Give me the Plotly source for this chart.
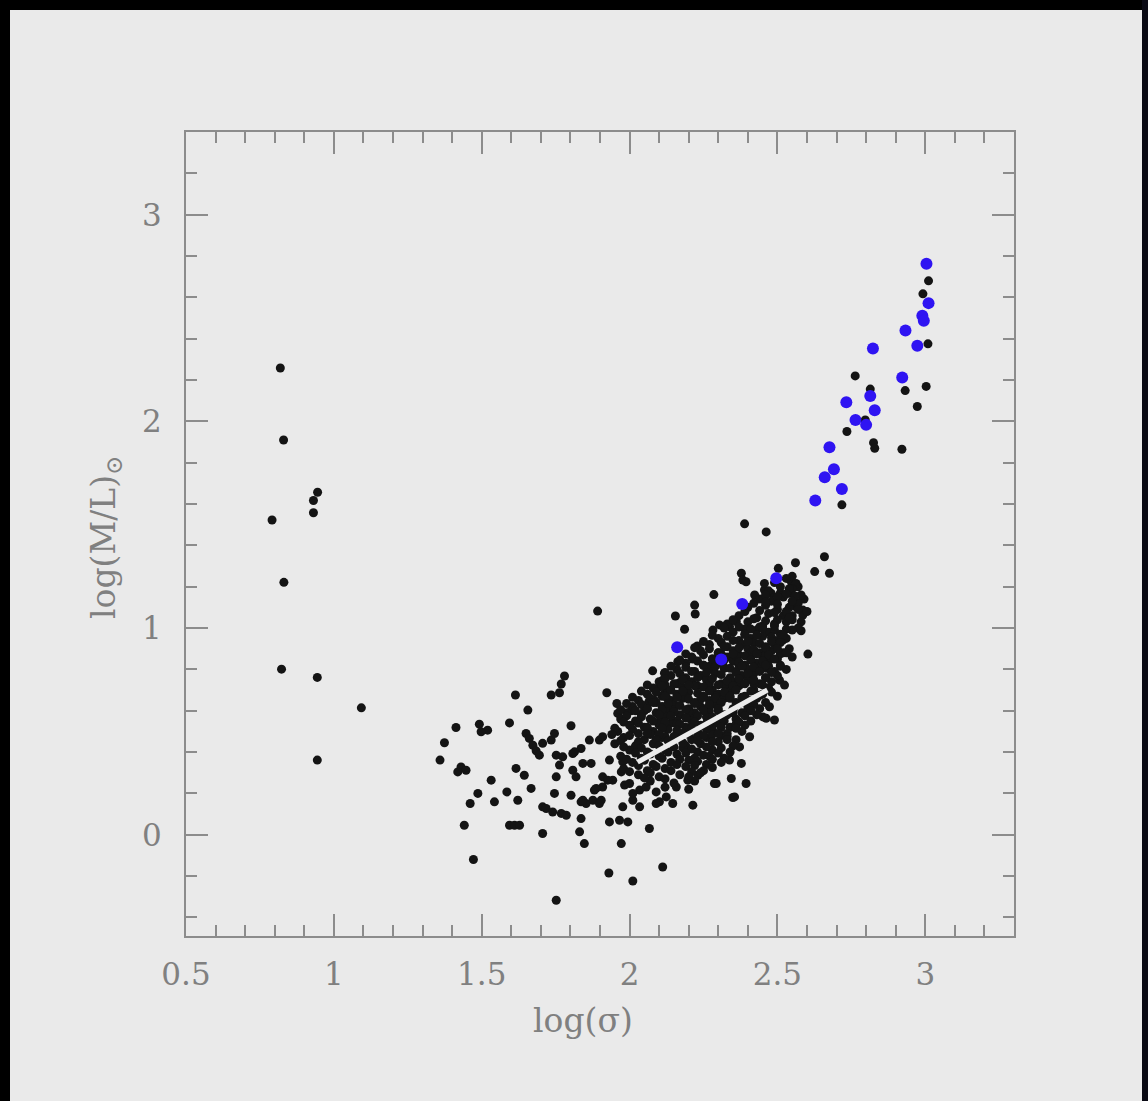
import plotly.graph_objects as go

# ---------------- data ----------------
# isolated low-sigma objects
left_x = [0.819, 0.830, 0.945, 0.931, 0.931, 0.791, 0.831, 0.823, 0.944, 1.093, 0.944]
left_y = [2.258, 1.910, 1.657, 1.617, 1.558, 1.523, 1.221, 0.801, 0.761, 0.614, 0.361]

# scattered black points around the main sequence
sparse_x = [1.892, 2.155, 2.220, 2.222, 2.285, 2.423, 2.456, 2.479, 2.378, 2.383, 2.394,
            2.456, 2.503, 2.547, 2.563, 2.561, 2.626, 2.676, 2.659, 2.563, 2.586, 2.586,
            2.186, 2.282, 2.304, 2.338, 2.361, 2.580, 2.541, 2.229, 2.214, 2.163, 2.603,
            2.078, 2.118, 2.112, 2.169, 2.101, 2.118, 2.124, 2.065, 2.084,
            1.923, 1.780, 1.769, 1.763, 1.735, 1.614, 1.656, 1.957, 1.960, 2.005, 2.050,
            1.413, 1.492, 1.520, 1.498, 1.594, 1.802, 1.374, 1.359,
            1.650, 1.661, 1.673, 1.684, 1.695, 1.706, 1.735, 1.746, 1.898, 1.909,
            1.430, 1.447, 1.419, 1.616, 1.644, 1.532, 1.487, 1.461, 1.543, 1.585, 1.622, 1.667,
            1.752, 1.774, 1.763, 1.752, 1.808, 1.836, 1.842, 1.870, 1.808, 1.819,
            1.746, 1.802, 1.706, 1.718, 1.740, 1.769, 1.786,
            1.836, 1.853, 1.876, 1.898, 1.836, 1.881, 1.909, 1.943, 1.972, 2.000, 2.011, 2.034,
            1.932, 1.966, 1.994, 2.067, 1.441, 1.594, 1.611, 1.628, 1.706, 1.831, 1.847, 1.972,
            1.472, 1.930, 2.011, 2.112, 1.752,
            2.146, 2.214, 2.101, 2.349, 2.287, 2.394, 2.344, 2.378,
            2.490, 2.462, 2.507, 2.524, 1.814, 1.864, 1.932, 1.909, 1.977,
            1.887, 1.926, 1.983, 2.011, 2.056, 2.090, 2.124, 2.158, 2.197, 2.231,
            1.842, 1.904, 1.977, 2.034, 2.090, 2.293, 2.355,
            2.451, 2.473, 2.406, 2.372, 2.338, 2.462, 2.518,
            2.550, 2.570, 2.590, 2.550, 2.580]
sparse_y = [1.082, 1.058, 1.111, 1.068, 1.162, 1.160, 1.184, 1.168, 1.265, 1.232, 1.224,
            1.216, 1.289, 1.224, 1.216, 1.316, 1.273, 1.265, 1.345, 1.103, 1.087, 1.063,
            0.994, 0.990, 1.015, 1.006, 1.031, 0.987, 1.168, 0.913, 0.850, 0.837, 0.874,
            0.793, 0.781, 0.748, 0.735, 0.716, 0.684, 0.667, 0.643, 0.651,
            0.687, 0.768, 0.729, 0.687, 0.676, 0.676, 0.603, 0.635, 0.587, 0.600, 0.600,
            0.519, 0.535, 0.506, 0.498, 0.541, 0.527, 0.445, 0.361,
            0.490, 0.466, 0.433, 0.406, 0.385, 0.442, 0.458, 0.490, 0.458, 0.474,
            0.328, 0.312, 0.304, 0.321, 0.288, 0.264, 0.200, 0.151, 0.159, 0.207, 0.167, 0.224,
            0.385, 0.377, 0.337, 0.280, 0.393, 0.417, 0.345, 0.345, 0.312, 0.280,
            0.200, 0.191, 0.135, 0.127, 0.110, 0.103, 0.094,
            0.159, 0.151, 0.167, 0.151, 0.078, 0.216, 0.231, 0.264, 0.304, 0.248, 0.167, 0.216,
            0.062, 0.070, 0.062, 0.030, 0.046, 0.046, 0.046, 0.046, 0.006, 0.014, -0.043, -0.043,
            -0.120, -0.185, -0.224, -0.156, -0.317,
            0.151, 0.143, 0.159, 0.180, 0.248, 0.248, 0.272, 0.345,
            0.555, 0.563, 0.748, 0.724, 0.401, 0.458, 0.361, 0.280, 0.353,
            0.224, 0.264, 0.240, 0.200, 0.231, 0.207, 0.183, 0.231, 0.264, 0.288,
            0.167, 0.167, 0.135, 0.135, 0.151, 0.248, 0.183,
            0.570, 0.619, 0.474, 0.425, 0.361, 0.805, 0.942,
            1.250, 1.200, 1.140, 1.060, 1.030]

# dense core of the main sequence (first layer)
core_x = [2.49, 2.53, 2.56,
          2.47, 2.51, 2.55, 2.58,
          2.44, 2.48, 2.52, 2.57,
          2.40, 2.46, 2.50, 2.54, 2.60,
          2.37, 2.43, 2.47, 2.52, 2.55,
          2.33, 2.40, 2.45, 2.49, 2.53, 2.57,
          2.35, 2.39, 2.43, 2.47, 2.51, 2.55,
          2.30, 2.37, 2.41, 2.45, 2.50, 2.53,
          2.27, 2.33, 2.38, 2.42, 2.46, 2.49, 2.54,
          2.24, 2.30, 2.35, 2.40, 2.44, 2.48, 2.52,
          2.21, 2.28, 2.33, 2.37, 2.41, 2.45, 2.50, 2.55,
          2.19, 2.25, 2.30, 2.35, 2.39, 2.43, 2.47, 2.51,
          2.16, 2.22, 2.27, 2.32, 2.36, 2.40, 2.44, 2.49, 2.53,
          2.14, 2.19, 2.24, 2.29, 2.34, 2.38, 2.42, 2.46, 2.50,
          2.10, 2.16, 2.21, 2.26, 2.31, 2.35, 2.40, 2.44, 2.48,
          2.08, 2.13, 2.18, 2.23, 2.28, 2.33, 2.37, 2.42, 2.47,
          2.06, 2.11, 2.16, 2.20, 2.25, 2.30, 2.34, 2.39, 2.45, 2.50,
          2.03, 2.09, 2.14, 2.18, 2.22, 2.27, 2.32, 2.36, 2.41, 2.46,
          2.01, 2.06, 2.11, 2.15, 2.20, 2.24, 2.29, 2.35, 2.40, 2.44,
          1.99, 2.04, 2.09, 2.13, 2.17, 2.22, 2.27, 2.32, 2.38, 2.43,
          1.97, 2.02, 2.07, 2.12, 2.16, 2.21, 2.26, 2.30, 2.36, 2.41,
          2.00, 2.05, 2.10, 2.14, 2.19, 2.24, 2.29, 2.34, 2.39,
          1.96, 2.03, 2.08, 2.13, 2.18, 2.23, 2.28, 2.33, 2.38,
          1.98, 2.05, 2.11, 2.16, 2.21, 2.26, 2.31, 2.36,
          1.95, 2.02, 2.08, 2.14, 2.19, 2.24, 2.30, 2.35,
          2.00, 2.06, 2.12, 2.18, 2.23, 2.28, 2.34,
          1.97, 2.04, 2.10, 2.16, 2.22, 2.27, 2.32,
          2.01, 2.08, 2.14, 2.20, 2.26, 2.31,
          1.98, 2.06, 2.12, 2.19, 2.25,
          2.03, 2.10, 2.17, 2.24,
          2.07, 2.15, 2.22,
          2.12, 2.20,
          2.12, 2.17, 2.22, 2.27, 2.32, 2.37, 2.42, 2.19, 2.24, 2.29, 2.34, 2.39, 2.44,
          2.15, 2.20, 2.25, 2.30, 2.35, 2.40, 2.10, 2.16, 2.21, 2.26, 2.31, 2.36,
          2.07, 2.12, 2.18, 2.23, 2.28, 2.33, 2.27, 2.32, 2.37, 2.42, 2.47,
          2.31, 2.36, 2.41, 2.46, 2.51, 2.39, 2.44, 2.49]
core_y = [1.22, 1.24, 1.21,
          1.18, 1.17, 1.19, 1.16,
          1.14, 1.13, 1.15, 1.12,
          1.10, 1.11, 1.09, 1.10, 1.08,
          1.06, 1.05, 1.07, 1.06, 1.04,
          1.02, 1.03, 1.01, 1.02, 1.03, 1.00,
          0.98, 0.97, 0.99, 0.98, 0.97, 0.99,
          0.95, 0.94, 0.95, 0.96, 0.94, 0.95,
          0.92, 0.91, 0.92, 0.93, 0.91, 0.92, 0.90,
          0.89, 0.88, 0.89, 0.90, 0.88, 0.89, 0.88,
          0.86, 0.85, 0.86, 0.87, 0.85, 0.86, 0.85, 0.86,
          0.83, 0.82, 0.83, 0.84, 0.82, 0.83, 0.84, 0.82,
          0.80, 0.79, 0.80, 0.81, 0.79, 0.80, 0.81, 0.79, 0.80,
          0.77, 0.76, 0.77, 0.78, 0.76, 0.77, 0.78, 0.76, 0.77,
          0.74, 0.73, 0.74, 0.75, 0.73, 0.74, 0.75, 0.73, 0.74,
          0.71, 0.70, 0.71, 0.72, 0.70, 0.71, 0.72, 0.70, 0.71,
          0.68, 0.67, 0.68, 0.69, 0.67, 0.68, 0.69, 0.67, 0.68, 0.67,
          0.65, 0.64, 0.65, 0.66, 0.64, 0.65, 0.66, 0.64, 0.65, 0.64,
          0.62, 0.61, 0.62, 0.63, 0.61, 0.62, 0.63, 0.61, 0.62, 0.61,
          0.59, 0.58, 0.59, 0.60, 0.58, 0.59, 0.60, 0.58, 0.59, 0.58,
          0.56, 0.55, 0.56, 0.57, 0.55, 0.56, 0.57, 0.55, 0.56, 0.55,
          0.53, 0.52, 0.53, 0.54, 0.52, 0.53, 0.54, 0.52, 0.53,
          0.50, 0.49, 0.50, 0.51, 0.49, 0.50, 0.51, 0.49, 0.50,
          0.47, 0.46, 0.47, 0.48, 0.46, 0.47, 0.48, 0.46,
          0.44, 0.43, 0.44, 0.45, 0.43, 0.44, 0.45, 0.43,
          0.41, 0.40, 0.41, 0.42, 0.40, 0.41, 0.40,
          0.38, 0.37, 0.38, 0.39, 0.37, 0.38, 0.37,
          0.35, 0.34, 0.35, 0.36, 0.34, 0.35,
          0.32, 0.31, 0.32, 0.33, 0.31,
          0.29, 0.28, 0.29, 0.30,
          0.26, 0.25, 0.26,
          0.23, 0.22,
          0.725, 0.735, 0.72, 0.73, 0.725, 0.74, 0.73, 0.665, 0.655, 0.67, 0.66, 0.665, 0.675,
          0.605, 0.595, 0.61, 0.60, 0.59, 0.605, 0.545, 0.535, 0.55, 0.54, 0.545, 0.535,
          0.485, 0.475, 0.49, 0.48, 0.485, 0.475, 0.815, 0.805, 0.82, 0.81, 0.815,
          0.875, 0.865, 0.88, 0.87, 0.875, 0.995, 1.005, 0.99]

# dense core (second, interleaved layer)
core2_x = [2.51, 2.54,
           2.46, 2.50, 2.53, 2.56,
           2.42, 2.46, 2.50, 2.55,
           2.39, 2.44, 2.49, 2.53, 2.57,
           2.35, 2.42, 2.46, 2.50, 2.54,
           2.32, 2.37, 2.41, 2.45, 2.49, 2.53,
           2.28, 2.33, 2.39, 2.43, 2.48, 2.52,
           2.25, 2.31, 2.35, 2.40, 2.44, 2.48, 2.51,
           2.22, 2.27, 2.32, 2.37, 2.42, 2.46, 2.50,
           2.19, 2.25, 2.30, 2.35, 2.39, 2.43, 2.47, 2.53,
           2.17, 2.23, 2.28, 2.32, 2.37, 2.41, 2.45, 2.49,
           2.14, 2.19, 2.25, 2.29, 2.34, 2.38, 2.42, 2.46, 2.51,
           2.12, 2.17, 2.21, 2.26, 2.31, 2.36, 2.40, 2.44, 2.48,
           2.12, 2.18, 2.23, 2.28, 2.33, 2.37, 2.42, 2.46,
           2.06, 2.11, 2.15, 2.20, 2.25, 2.30, 2.35, 2.39, 2.45,
           2.04, 2.09, 2.14, 2.18, 2.23, 2.27, 2.32, 2.36, 2.41, 2.48,
           2.01, 2.07, 2.12, 2.16, 2.20, 2.25, 2.29, 2.34, 2.38, 2.43,
           1.99, 2.04, 2.08, 2.13, 2.17, 2.22, 2.27, 2.31, 2.37, 2.42,
           1.97, 2.02, 2.06, 2.11, 2.15, 2.19, 2.25, 2.30, 2.35, 2.41,
           1.99, 2.04, 2.10, 2.14, 2.19, 2.23, 2.28, 2.33, 2.39,
           1.98, 2.03, 2.08, 2.12, 2.17, 2.22, 2.27, 2.32, 2.37,
           1.95, 2.01, 2.06, 2.11, 2.16, 2.21, 2.26, 2.31, 2.36,
           1.94, 2.00, 2.06, 2.10, 2.15, 2.20, 2.25, 2.30,
           1.97, 2.03, 2.09, 2.13, 2.18, 2.23, 2.28, 2.33,
           1.98, 2.04, 2.10, 2.15, 2.21, 2.26, 2.31,
           2.02, 2.07, 2.13, 2.19, 2.25, 2.30,
           1.99, 2.05, 2.11, 2.17, 2.23, 2.28,
           2.03, 2.09, 2.16, 2.22, 2.28,
           2.00, 2.07, 2.14, 2.21,
           2.05, 2.12, 2.20]
core2_y = [1.200, 1.190,
           1.160, 1.150, 1.165, 1.155,
           1.120, 1.125, 1.115, 1.130,
           1.080, 1.085, 1.075, 1.080, 1.090,
           1.040, 1.045, 1.035, 1.040, 1.050,
           1.000, 1.005, 0.995, 1.000, 1.010, 0.995,
           0.965, 0.960, 0.970, 0.965, 0.955, 0.965,
           0.935, 0.930, 0.940, 0.935, 0.925, 0.935, 0.930,
           0.905, 0.900, 0.910, 0.905, 0.895, 0.905, 0.900,
           0.875, 0.870, 0.880, 0.875, 0.865, 0.875, 0.870, 0.880,
           0.845, 0.840, 0.850, 0.845, 0.835, 0.845, 0.840, 0.850,
           0.815, 0.810, 0.820, 0.815, 0.805, 0.815, 0.810, 0.820, 0.815,
           0.785, 0.780, 0.790, 0.785, 0.775, 0.785, 0.780, 0.790, 0.785,
           0.755, 0.750, 0.760, 0.755, 0.745, 0.755, 0.750, 0.760,
           0.725, 0.720, 0.730, 0.725, 0.715, 0.725, 0.720, 0.730, 0.725,
           0.695, 0.690, 0.700, 0.695, 0.685, 0.695, 0.690, 0.700, 0.695, 0.690,
           0.665, 0.660, 0.670, 0.665, 0.655, 0.665, 0.660, 0.670, 0.665, 0.660,
           0.635, 0.630, 0.640, 0.635, 0.625, 0.635, 0.630, 0.640, 0.635, 0.630,
           0.605, 0.600, 0.610, 0.605, 0.595, 0.605, 0.600, 0.610, 0.605, 0.600,
           0.575, 0.570, 0.580, 0.575, 0.565, 0.575, 0.570, 0.580, 0.575,
           0.545, 0.540, 0.550, 0.545, 0.535, 0.545, 0.540, 0.550, 0.545,
           0.515, 0.510, 0.520, 0.515, 0.505, 0.515, 0.510, 0.520, 0.515,
           0.485, 0.480, 0.490, 0.485, 0.475, 0.485, 0.480, 0.490,
           0.455, 0.450, 0.460, 0.455, 0.445, 0.455, 0.450, 0.460,
           0.425, 0.420, 0.430, 0.425, 0.415, 0.425, 0.420,
           0.395, 0.390, 0.400, 0.395, 0.385, 0.395,
           0.365, 0.360, 0.370, 0.365, 0.355, 0.365,
           0.335, 0.330, 0.340, 0.335, 0.325,
           0.305, 0.300, 0.310, 0.305,
           0.275, 0.270, 0.280]

# black points in the high-sigma (cluster) region
upper_x = [3.011, 2.992, 3.009, 2.763, 2.814, 2.932, 3.003, 2.973, 2.797, 2.735, 2.825,
           2.829, 2.921, 2.718, 2.389, 2.462]
upper_y = [2.680, 2.617, 2.375, 2.220, 2.156, 2.149, 2.169, 2.072, 2.007, 1.951, 1.897,
           1.870, 1.865, 1.596, 1.504, 1.465]

# blue points
blue_x = [3.004, 3.011, 2.990, 2.995, 2.933, 2.973, 2.823, 2.922, 2.814, 2.733, 2.829,
          2.764, 2.800, 2.676, 2.691, 2.660, 2.718, 2.628, 2.496, 2.381, 2.161, 2.310]
blue_y = [2.763, 2.572, 2.511, 2.487, 2.440, 2.366, 2.353, 2.212, 2.123, 2.093, 2.054,
          2.007, 1.983, 1.875, 1.768, 1.730, 1.673, 1.617, 1.241, 1.116, 0.907, 0.848]

# fitted relation (white segment)
fit_x = [2.027, 2.466]
fit_y = [0.351, 0.700]

x_ticks = [0.5, 1, 1.5, 2, 2.5, 3]
y_ticks = [0, 1, 2, 3]

# ---------------- figure ----------------
BG = "#eaeaea"
AX = "#8c8c8c"
TXT = "#808080"
FONT = "DejaVu Serif"

black_x = left_x + sparse_x + core_x + core2_x + upper_x
black_y = left_y + sparse_y + core_y + core2_y + upper_y

fig = go.Figure()
fig.add_trace(go.Scatter(x=black_x, y=black_y, mode="markers",
                         marker=dict(color="#141414", size=9, line=dict(width=0)),
                         hoverinfo="skip", showlegend=False))
fig.add_trace(go.Scatter(x=fit_x, y=fit_y, mode="lines",
                         line=dict(color="#ececec", width=5),
                         hoverinfo="skip", showlegend=False))
fig.add_trace(go.Scatter(x=blue_x, y=blue_y, mode="markers",
                         marker=dict(color="#2f14f2", size=12, line=dict(width=0)),
                         hoverinfo="skip", showlegend=False))

W, H = 1148, 1101
L, R, T, B = 186, 1148 - 1014, 132, 1101 - 936
pw, ph = W - L - R, H - T - B

def px(xp):
    return (xp - L) / pw

def py(yp):
    return (H - B - yp) / ph

axis_common = dict(
    showline=True, linecolor=AX, linewidth=2, mirror="allticks",
    ticks="inside", ticklen=22, tickwidth=2, tickcolor=AX,
    showgrid=False, zeroline=False,
    tickfont=dict(family=FONT, size=31, color=TXT),
)

fig.update_xaxes(range=[0.5, 3.3], tickvals=x_ticks, ticktext=[str(v) for v in x_ticks],
                 ticklabelstandoff=10,
                 minor=dict(dtick=0.1, tick0=0.5, ticks="inside", ticklen=11,
                            tickwidth=2, tickcolor=AX, showgrid=False),
                 **axis_common)
fig.update_yaxes(range=[-0.49, 3.4], tickvals=y_ticks, ticktext=[str(v) for v in y_ticks],
                 ticklabelstandoff=16,
                 minor=dict(dtick=0.2, tick0=0, ticks="inside", ticklen=11,
                            tickwidth=2, tickcolor=AX, showgrid=False),
                 **axis_common)

fig.update_layout(
    width=W, height=H,
    margin=dict(l=L, r=R, t=T, b=B),
    paper_bgcolor=BG, plot_bgcolor=BG,
    annotations=[
        dict(text="log(σ)", xref="paper", yref="paper", x=px(583), y=py(1020),
             xanchor="center", yanchor="middle", showarrow=False,
             font=dict(family=FONT, size=33, color=TXT)),
        dict(text="log(M/L)<sub>⊙</sub>", xref="paper", yref="paper", x=px(105), y=py(538),
             xanchor="center", yanchor="middle", showarrow=False, textangle=-90,
             font=dict(family=FONT, size=33, color=TXT)),
    ],
    shapes=[
        dict(type="rect", xref="paper", yref="paper", x0=px(0), x1=px(10), y0=py(H), y1=py(0),
             fillcolor="#000000", line=dict(width=0), layer="above"),
        dict(type="rect", xref="paper", yref="paper", x0=px(0), x1=px(W), y0=py(10), y1=py(0),
             fillcolor="#000000", line=dict(width=0), layer="above"),
        dict(type="rect", xref="paper", yref="paper", x0=px(1142), x1=px(W), y0=py(H), y1=py(0),
             fillcolor="#0a0a14", line=dict(width=0), layer="above"),
    ],
)

fig.write_html(
    "out.html",
    config={"displayModeBar": False},
    post_script="document.body.style.margin='0';document.body.style.padding='0';"
                "document.body.style.background='#eaeaea';",
)
